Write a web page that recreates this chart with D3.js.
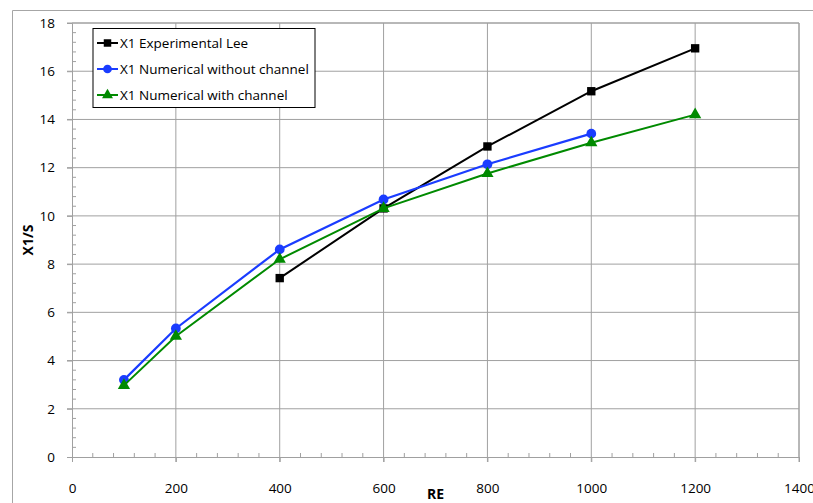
<!DOCTYPE html>
<html>
<head>
    <script src="https://d3js.org/d3.v7.min.js"></script>
    <style>
        body { margin: 0; background: #fff; }
        text { font-family: "Open Sans", sans-serif; }
    </style>
</head>
<body>
    <div id="chart"></div>
    <script>
        let expRe = [400, 600, 800, 1000, 1200];
        let expVal = [7.42, 10.31, 12.88, 15.17, 16.95];
        let noChRe = [100, 200, 400, 600, 800, 1000];
        let noChVal = [3.2, 5.33, 8.61, 10.68, 12.14, 13.41];
        let chRe = [100, 200, 400, 600, 800, 1000, 1200];
        let chVal = [2.97, 5.01, 8.2, 10.31, 11.76, 13.03, 14.2];
        let xTicks = [0, 200, 400, 600, 800, 1000, 1200, 1400];
        let yTicks = [0, 2, 4, 6, 8, 10, 12, 14, 16, 18];
        let seriesNames = ["X1 Experimental Lee", "X1 Numerical without channel", "X1 Numerical with channel"];

        let width = 813, height = 503;
        let plotLeft = 72, plotRight = 799, plotTop = 23, plotBottom = 457;

        let svg = d3.select("#chart").append("svg")
            .attr("width", width)
            .attr("height", height);

        // outer chart border
        svg.append("path")
            .attr("d", `M12.5,${height}V10.5H${width}`)
            .attr("fill", "none")
            .attr("stroke", "#a6a6a6");

        let x = d3.scaleLinear().domain([0, 1400]).range([plotLeft, plotRight]);
        let y = d3.scaleLinear().domain([0, 18]).range([plotBottom, plotTop]);

        // gridlines
        svg.append("g")
            .selectAll("line")
            .data(xTicks.slice(1))
            .join("line")
            .attr("x1", d => x(d)).attr("x2", d => x(d))
            .attr("y1", plotTop).attr("y2", plotBottom + 5)
            .attr("stroke", "#a0a0a0");
        svg.append("g")
            .selectAll("line")
            .data(yTicks.slice(1))
            .join("line")
            .attr("x1", plotLeft - 5).attr("x2", plotRight)
            .attr("y1", d => y(d)).attr("y2", d => y(d))
            .attr("stroke", "#a0a0a0");

        // minor ticks
        svg.append("g")
            .selectAll("line")
            .data(d3.range(0, 1400, 40).filter(d => d % 200 !== 0))
            .join("line")
            .attr("x1", d => x(d)).attr("x2", d => x(d))
            .attr("y1", plotBottom).attr("y2", plotBottom - 4)
            .attr("stroke", "#a0a0a0");
        svg.append("g")
            .selectAll("line")
            .data(d3.range(0, 18, 0.4).filter(d => Math.abs(d / 2 - Math.round(d / 2)) > 0.01))
            .join("line")
            .attr("x1", plotLeft).attr("x2", plotLeft + 4)
            .attr("y1", d => y(d)).attr("y2", d => y(d))
            .attr("stroke", "#a0a0a0");

        // axes
        svg.append("g")
            .attr("transform", `translate(0,${plotBottom})`)
            .call(d3.axisBottom(x).tickValues(xTicks).tickFormat(d3.format("d")).tickSize(5).tickPadding(21))
            .call(g => g.select(".domain").attr("stroke", "#a0a0a0"))
            .call(g => g.selectAll(".tick line").attr("stroke", "#a0a0a0"))
            .call(g => g.selectAll("text").attr("font-size", 13.5).attr("fill", "#000").attr("font-family", "Open Sans"));
        svg.append("g")
            .attr("transform", `translate(${plotLeft},0)`)
            .call(d3.axisLeft(y).tickValues(yTicks).tickSize(5).tickPadding(12))
            .call(g => g.select(".domain").attr("stroke", "#a0a0a0"))
            .call(g => g.selectAll(".tick line").attr("stroke", "#a0a0a0"))
            .call(g => g.selectAll("text").attr("font-size", 13.5).attr("fill", "#000").attr("font-family", "Open Sans"));

        // top and right border
        svg.append("path")
            .attr("d", `M${plotLeft},${plotTop}H${plotRight}V${plotBottom}`)
            .attr("fill", "none")
            .attr("stroke", "#a0a0a0");

        svg.append("text")
            .attr("x", x(700)).attr("y", 499)
            .attr("text-anchor", "middle")
            .attr("font-size", 14).attr("font-weight", "bold")
            .text("RE");
        svg.append("text")
            .attr("transform", `translate(33,${(plotTop + plotBottom) / 2}) rotate(-90)`)
            .attr("text-anchor", "middle")
            .attr("font-size", 14).attr("font-weight", "bold")
            .text("X1/S");

        let series = [
            {name: seriesNames[0], xs: expRe, ys: expVal, color: "#000000", shape: d3.symbolSquare, size: 70, w: 2},
            {name: seriesNames[1], xs: noChRe, ys: noChVal, color: "#1a3cff", shape: d3.symbolCircle, size: 75, w: 2.2},
            {name: seriesNames[2], xs: chRe, ys: chVal, color: "#008a00", shape: d3.symbolTriangle, size: 65, w: 2}
        ];

        let line = d3.line().x(d => x(d[0])).y(d => y(d[1]));

        series.forEach(s => {
            let pts = s.xs.map((v, i) => [v, s.ys[i]]);
            svg.append("path")
                .attr("d", line(pts))
                .attr("fill", "none")
                .attr("stroke", s.color)
                .attr("stroke-width", s.w);
            svg.append("g")
                .selectAll("path")
                .data(pts)
                .join("path")
                .attr("transform", d => `translate(${x(d[0])},${y(d[1])})`)
                .attr("d", d3.symbol().type(s.shape).size(s.size))
                .attr("fill", s.color);
        });

        // legend
        let legend = svg.append("g");
        legend.append("rect")
            .attr("x", 93).attr("y", 28.5)
            .attr("width", 222).attr("height", 79)
            .attr("fill", "#fff")
            .attr("stroke", "#000");
        series.forEach((s, i) => {
            let ly = 43 + i * 26;
            legend.append("line")
                .attr("x1", 97).attr("x2", 118)
                .attr("y1", ly).attr("y2", ly)
                .attr("stroke", s.color).attr("stroke-width", 2);
            legend.append("path")
                .attr("transform", `translate(107.5,${ly})`)
                .attr("d", d3.symbol().type(s.shape).size(s.size * 0.8))
                .attr("fill", s.color);
            legend.append("text")
                .attr("x", 120).attr("y", ly + 5)
                .attr("font-size", 13.5)
                .text(s.name);
        });
    </script>
</body>
</html>
